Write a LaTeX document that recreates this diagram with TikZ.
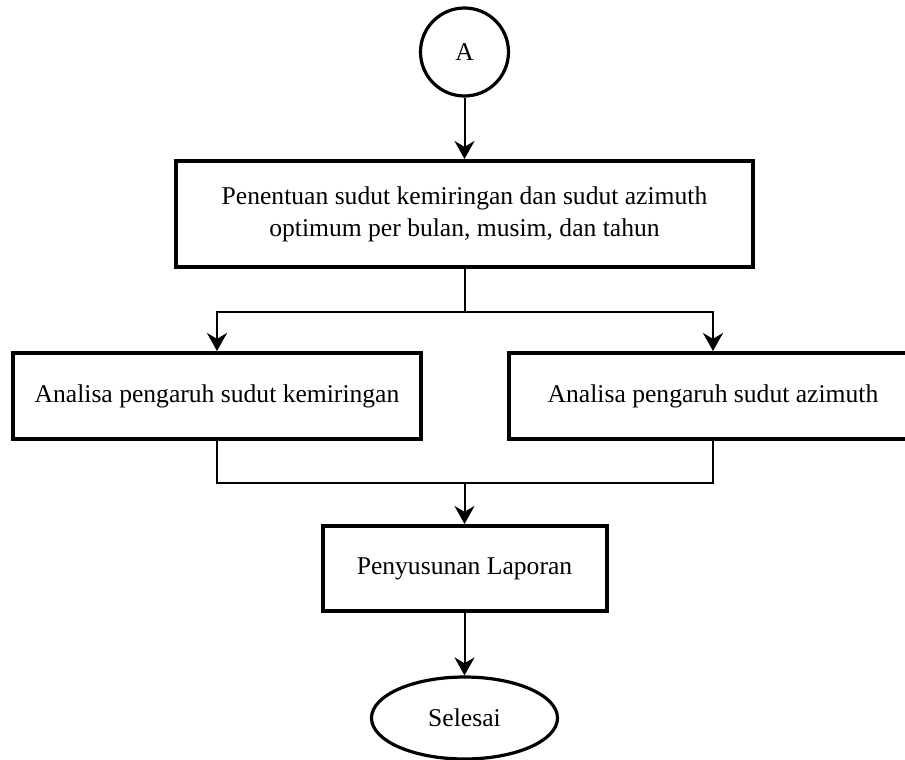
\documentclass[tikz,border=0pt]{standalone}
\usepackage{fontspec}
\setmainfont{Liberation Serif}
\usetikzlibrary{arrows.meta}
\usetikzlibrary{shapes.geometric}

\begin{document}
\begin{tikzpicture}[x=0.5pt, y=-0.5pt,
    every node/.style={font=\fontsize{12.8}{16}\selectfont, align=center, inner sep=0pt},
    proses/.style={draw, line width=2pt, rectangle},
    alur/.style={line width=1pt},
    panah/.style={alur, -{Stealth[length=9pt, width=10pt]}}]
    \useasboundingbox (0,0) rectangle (905,760);

    % start connector
    \node[draw, circle, line width=1.6pt, minimum size=44pt] (A) at (464.5,52) {A};

    \node[proses, minimum width=288.5pt, minimum height=53pt] (tentu) at (464.5,214)
        {Penentuan sudut kemiringan dan sudut azimuth\\optimum per bulan, musim, dan tahun};

    \node[proses, minimum width=204pt, minimum height=43pt] (miring) at (217,396)
        {Analisa pengaruh sudut kemiringan};
    \node[proses, minimum width=204pt, minimum height=43pt] (azimut) at (713,396)
        {Analisa pengaruh sudut azimuth};

    \node[proses, minimum width=142pt, minimum height=42.5pt] (lapor) at (464.5,568.5)
        {Penyusunan Laporan};

    \node[draw, ellipse, line width=1.6pt, minimum width=93pt, minimum height=41pt] (selesai) at (464.5,718)
        {Selesai};

    \coordinate (cabang) at (464.5,312);
    \coordinate (gabung) at (464.5,483);

    \draw[panah] (A) -- (tentu);
    \draw[alur] (tentu) -- (cabang);
    \draw[panah] (cabang) -| (miring.north);
    \draw[panah] (cabang) -| (azimut.north);

    \draw[alur] (miring.south) |- (gabung);
    \draw[alur] (azimut.south) |- (gabung);
    \draw[panah] (gabung) -- (lapor);
    \draw[panah] (lapor) -- (selesai);
\end{tikzpicture}
\end{document}
